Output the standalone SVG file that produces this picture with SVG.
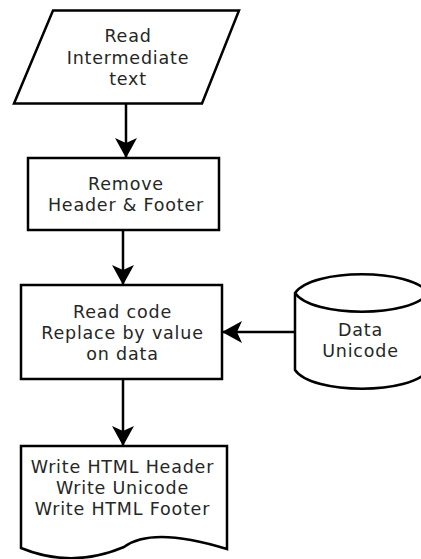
<svg xmlns="http://www.w3.org/2000/svg" width="421" height="559" viewBox="0 0 421 559">
<defs>
<style>
.shape{fill:#fff;stroke:#000;stroke-width:2.5;stroke-linejoin:miter}
.conn{fill:none;stroke:#000;stroke-width:2.5}
.lbl{font-family:"DejaVu Sans",Verdana,sans-serif;font-size:17.5px;letter-spacing:0.8px;fill:#262626;text-anchor:middle}
</style>
<marker id="arrow" viewBox="0 0 20 22" refX="19" refY="11" markerWidth="20" markerHeight="22" markerUnits="userSpaceOnUse" orient="auto">
<path d="M0,0 L20,11 L0,22 L5,11 z" fill="#000"/>
</marker>
</defs>
<rect width="421" height="559" fill="#fff"/>
<g id="connectors">
<line class="conn" x1="126" y1="104" x2="126" y2="157" marker-end="url(#arrow)"/>
<line class="conn" x1="123" y1="230" x2="123" y2="284" marker-end="url(#arrow)"/>
<line class="conn" x1="123" y1="379" x2="123" y2="445" marker-end="url(#arrow)"/>
<line class="conn" x1="295" y1="332" x2="223" y2="332" marker-end="url(#arrow)"/>
</g>
<g id="read-intermediate">
<polygon class="shape" points="53,10.5 239,10.5 202,103.5 14,103.5"/>
<text class="lbl" x="128" y="42">Read</text>
<text class="lbl" x="128" y="64">Intermediate</text>
<text class="lbl" x="128" y="85">text</text>
</g>
<g id="remove-header">
<rect class="shape" x="28" y="158" width="191" height="72"/>
<text class="lbl" x="126" y="190">Remove</text>
<text class="lbl" x="126" y="211">Header &amp; Footer</text>
</g>
<g id="read-code">
<rect class="shape" x="21" y="285" width="201" height="94"/>
<text class="lbl" x="122.5" y="318">Read code</text>
<text class="lbl" x="122.5" y="339">Replace by value</text>
<text class="lbl" x="122.5" y="360">on data</text>
</g>
<g id="data-unicode">
<path class="shape" d="M295,293 C312,268 412,268 428,293 L428,370 C412,395 312,395 295,370 Z"/>
<path class="conn" d="M295,293 C312,318 412,318 428,293"/>
<text class="lbl" x="360.5" y="336">Data</text>
<text class="lbl" x="360.5" y="357">Unicode</text>
</g>
<g id="write-html">
<path class="shape" d="M21,446 L227,446 L227,549 Q152,526 124,547 Q72,569 21,548 Z"/>
<text class="lbl" x="122.5" y="473">Write HTML Header</text>
<text class="lbl" x="122.5" y="494">Write Unicode </text>
<text class="lbl" x="122.5" y="515">Write HTML Footer</text>
</g>
</svg>
